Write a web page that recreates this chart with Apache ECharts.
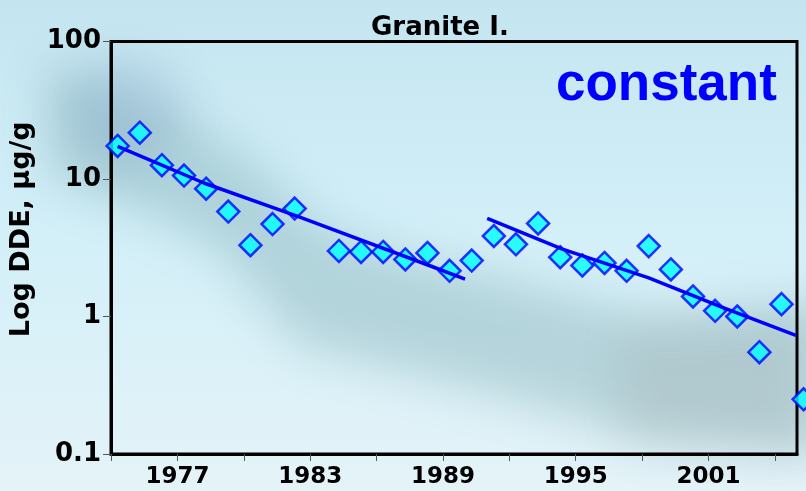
<!DOCTYPE html>
<html><head><meta charset="utf-8">
<script src="https://cdn.jsdelivr.net/npm/echarts@6/dist/echarts.min.js"></script>
<style>html,body{margin:0;padding:0;background:#d2edf6}#c{width:806px;height:491px}</style>
</head><body><div id="c"></div>
<script>
// ---- data ----
const years = [1974.3, 1975.3, 1976.3, 1977.3, 1978.3, 1979.3, 1980.3, 1981.3, 1982.3,
  1984.3, 1985.3, 1986.3, 1987.3, 1988.3, 1989.3, 1990.3, 1991.3, 1992.3, 1993.3,
  1994.3, 1995.3, 1996.3, 1997.3, 1998.3, 1999.3, 2000.3, 2001.3, 2002.3, 2003.3,
  2004.3, 2005.3];
const dde = [17.4, 21.7, 12.6, 10.6, 8.5, 5.8, 3.3, 4.7, 6.1,
  3.0, 2.95, 2.95, 2.6, 2.9, 2.15, 2.55, 3.85, 3.35, 4.75,
  2.7, 2.35, 2.45, 2.15, 3.25, 2.2, 1.4, 1.1, 1.0, 0.55,
  1.23, 0.25];
const fit1Years = [1974.3, 1978.2, 1982.5, 1988.5, 1990.0];
const fit1 = [17.3, 9.35, 5.3, 2.31, 1.87];
const fit2Years = [1991.0, 1994.4, 1998.3, 2001.6, 2004.95];
const fit2 = [5.18, 3.09, 1.91, 1.17, 0.73];
const xTickValues = [1974, 1977, 1980, 1983, 1986, 1989, 1992, 1995, 1998, 2001, 2004];
const xLabelValues = [1977, 1983, 1989, 1995, 2001];
const yTickLabels = ['0.1', '1', '10', '100'];
const titleText = 'Granite I.';
const yName = 'Log DDE, µg/g';
const noteText = 'constant';

const zip = (a, b) => a.map((v, i) => [v, b[i]]);
const FONT = 'DejaVu Sans';
const chart = echarts.init(document.getElementById('c'), null, {renderer: 'canvas'});

function blurShape(type, shape, color, blur) {
  // draw shape far off-canvas, only its blurred shadow lands on the canvas
  const off = 2000;
  const s = JSON.parse(JSON.stringify(shape));
  if (s.points) s.points = s.points.map(p => [p[0] - off, p[1]]);
  if (s.cx !== undefined) s.cx -= off;
  return {type, shape: s, silent: true, z: -10,
    style: {fill: '#000', shadowBlur: blur, shadowColor: color, shadowOffsetX: off, shadowOffsetY: 0}};
}

const option = {
  animation: false,
  backgroundColor: {type: 'linear', x: 0, y: 0, x2: 0, y2: 1, colorStops: [
    {offset: 0, color: '#c4e5f0'}, {offset: 0.45, color: '#d2eff8'}, {offset: 1, color: '#e4f3f8'}]},
  title: {
    text: titleText, left: 371, top: 15, padding: 0,
    textStyle: {fontFamily: FONT, fontSize: 26, fontWeight: 'bold', color: '#000'}
  },
  graphic: {elements: [
    blurShape('polygon', {points: [[50, 65], [150, 100], [250, 160], [320, 225], [400, 255], [500, 278], [650, 315], [830, 300],
      [830, 455], [650, 440], [500, 395], [400, 370], [300, 345], [220, 250], [150, 215], [50, 175]]},
      'rgba(105,155,160,0.33)', 45),
    blurShape('ellipse', {cx: 125, cy: 110, rx: 60, ry: 55}, 'rgba(120,150,190,0.22)', 40),
    blurShape('polygon', {points: [[620, 330], [806, 320], [806, 450], [620, 440]]}, 'rgba(150,150,150,0.16)', 40),
    {type: 'text', left: 556, top: 59, z: 100, silent: true,
      style: {text: noteText, fill: '#0000ff', font: 'bold 53px "Liberation Sans", Arial, sans-serif'}}
  ]},
  grid: {left: 111, right: 9, top: 41.5, bottom: 37, show: true, borderColor: '#000', borderWidth: 3,
    backgroundColor: 'transparent', outerBoundsMode: 'none', containLabel: false},
  xAxis: {
    type: 'value', min: 1974, max: 2005, interval: 3,
    axisLine: {show: true, onZero: false, lineStyle: {color: '#000', width: 3}},
    axisTick: {show: true, length: 7, lineStyle: {color: '#555', width: 1}, customValues: xTickValues},
    axisLabel: {customValues: xLabelValues, margin: 12, fontFamily: FONT, fontSize: 23, fontWeight: 'bold', color: '#000',
      formatter: v => String(v)},
    splitLine: {show: false}
  },
  yAxis: {
    type: 'log', logBase: 10, min: 0.1, max: 100,
    name: yName, nameLocation: 'middle', nameGap: 61,
    nameTextStyle: {fontFamily: FONT, fontSize: 27, fontWeight: 'bold', color: '#000', padding: [0, 0, 0, 37]},
    axisLine: {show: true, onZero: false, lineStyle: {color: '#000', width: 3}},
    axisTick: {show: true, length: 8, lineStyle: {color: '#555', width: 1}},
    minorTick: {show: false},
    axisLabel: {margin: 10, fontFamily: FONT, fontSize: 26, fontWeight: 'bold', color: '#000',
      formatter: v => yTickLabels[Math.round(Math.log10(v)) + 1]},
    splitLine: {show: false}
  },
  series: [
    {type: 'scatter', data: zip(years, dde), symbol: 'diamond', symbolSize: 22, clip: false, z: 3,
      itemStyle: {color: '#00ffff', borderColor: '#0000ff', borderWidth: 2.5}},
    {type: 'line', data: zip(fit1Years, fit1), showSymbol: false, symbol: 'none', z: 4,
      lineStyle: {color: '#0000ff', width: 3.5}},
    {type: 'line', data: zip(fit2Years, fit2), showSymbol: false, symbol: 'none', z: 4,
      lineStyle: {color: '#0000ff', width: 3.5}}
  ]
};
chart.setOption(option);
</script></body></html>
